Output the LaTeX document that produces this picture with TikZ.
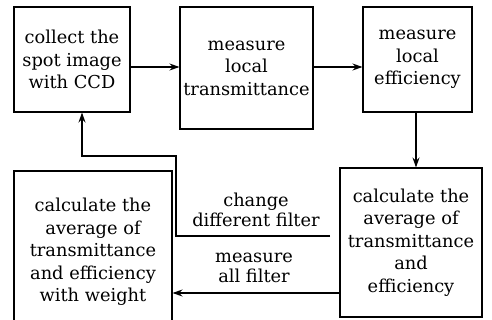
\documentclass[tikz,border=0pt]{standalone}
\usepackage{fontspec}
\setmainfont{DejaVu Serif}
\usetikzlibrary{arrows.meta}
\begin{document}
\begin{tikzpicture}[x=1pt,y=-1pt,
  box/.style={draw,line width=1.1pt,align=center,inner sep=0pt,font=\fontsize{17.8}{22.5}\selectfont},
  lbl/.style={align=center,inner sep=0pt,font=\fontsize{17.8}{20}\selectfont},
  arr/.style={line width=1.1pt,-{Stealth[length=10pt,width=7pt]}}]
\useasboundingbox[fill=white] (0,0) rectangle (492,320);
\node[box,minimum width=116pt,minimum height=105pt] (b1) at (72,59.5) {collect the\\spot image\\with CCD};
\node[box,minimum width=133pt,minimum height=122pt] (b2) at (246.5,68) {measure\\local\\transmittance};
\node[box,minimum width=109pt,minimum height=105pt] (b3) at (417.5,59.5) {measure\\local\\efficiency};
\node[box,minimum width=142pt,minimum height=149pt] (b4) at (411,242.5) {calculate the\\average of\\transmittance\\and\\efficiency};
\node[box,minimum width=158pt,minimum height=162pt] (b5) at (93,252) {calculate the\\average of\\transmittance\\and efficiency\\with weight};
\node[lbl] (l1) at (256,210) {change\\different filter};
\node[lbl] (l2) at (254,268) {measure\\all filter};
\coordinate (cf) at (330,236);
\draw[arr] (b1.east|-0,67) -- (b2.west|-0,67);
\draw[arr] (b2.east|-0,67) -- (b3.west|-0,67);
\draw[arr] (b3.south-|416,0) -- (b4.north-|416,0);
\draw[arr] (b4.west|-0,293) -- (b5.east|-0,293);
\draw[arr] (cf) -- (176,236) -- (176,156) -| ([xshift=10pt]b1.south);
\end{tikzpicture}
\end{document}
